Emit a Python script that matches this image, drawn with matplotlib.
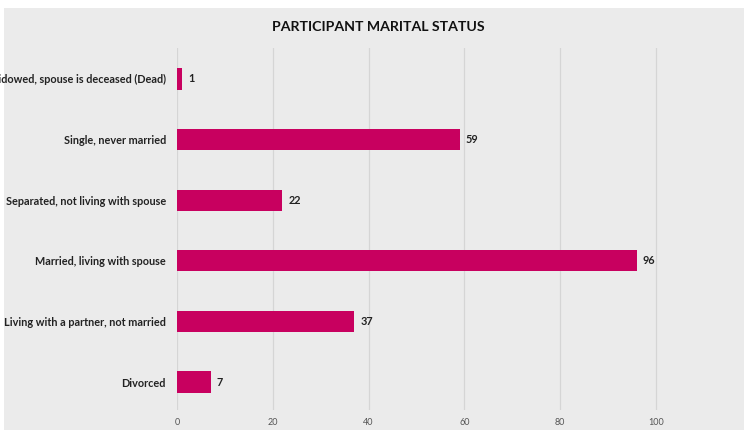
import matplotlib.pyplot as plt
from matplotlib.patches import Rectangle

# data
categories = ['Divorced',
              'Living with a partner, not married',
              'Married, living with spouse',
              'Separated, not living with spouse',
              'Single, never married',
              'Widowed, spouse is deceased (Dead)']
counts = [7, 37, 96, 22, 59, 1]
xticks = [0, 20, 40, 60, 80, 100]

bg = '#ebebeb'
bar_color = '#c8005f'

plt.rcParams['font.family'] = ['Lato', 'DejaVu Sans']

fig = plt.figure(figsize=(7.44, 4.30), dpi=100, facecolor='white')
# grey chart area with thin white strip on top/left
fig.patches.append(Rectangle((4 / 744, 0), 1, 1 - 8 / 430, transform=fig.transFigure,
                             facecolor=bg, edgecolor='none', zorder=-1))

ax = fig.add_axes([177 / 744, 1 - 410 / 430, 1 - 177 / 744, (410 - 48) / 430])
ax.set_facecolor(bg)

ypos = list(range(len(categories)))
ax.barh(ypos, counts, height=0.35, color=bar_color, zorder=3)

for y, v in zip(ypos, counts):
    ax.annotate(str(v), (v, y), xytext=(4.5, 0), textcoords='offset points',
                va='center', ha='left', fontsize=7.8, fontweight='bold', color='#222222')

ax.set_xlim(0, 118.4)
ax.set_ylim(-0.46, 5.51)
ax.set_xticks(xticks)
ax.set_xticklabels([str(t) for t in xticks], fontsize=6.5, color='#555555')
ax.set_yticks(ypos)
ax.set_yticklabels(categories, fontsize=7.8, fontweight='bold', color='#222222')
ax.tick_params(axis='y', length=0, pad=8)
ax.tick_params(axis='x', length=0, pad=6)
ax.grid(axis='x', color='#d5d5d5', lw=0.9, zorder=1)
ax.set_axisbelow(True)

for s in ax.spines.values():
    s.set_visible(False)

fig.text(378 / 744, 1 - 27 / 430, 'PARTICIPANT MARITAL STATUS', ha='center', va='center',
         fontsize=10.2, fontweight='bold', color='#111111')

fig.savefig('out.png', dpi=100, facecolor='white')
